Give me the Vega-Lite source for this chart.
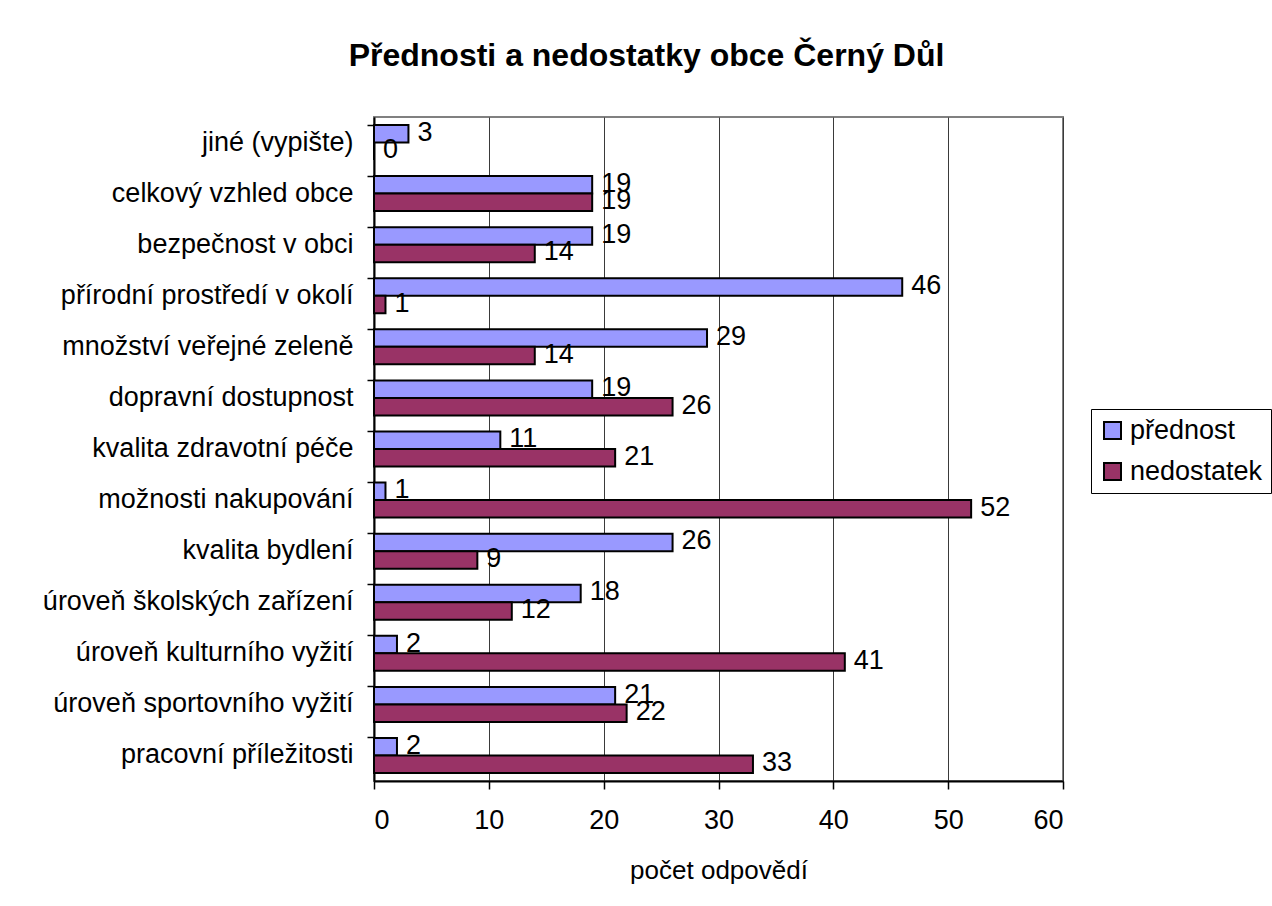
{
  "$schema": "https://vega.github.io/schema/vega-lite/v6.json",
  "autosize": {"type": "none"},
  "width": 689,
  "height": 664,
  "padding": {"left": 374, "top": 117, "right": 209, "bottom": 125},
  "background": "white",
  "title": {
    "text": "Přednosti a nedostatky obce Černý Důl",
    "anchor": "middle",
    "dx": -72,
    "offset": 44,
    "font": "Liberation Sans",
    "fontSize": 32,
    "fontWeight": "bold",
    "color": "black"
  },
  "config": {
    "view": {"stroke": "#808080", "strokeWidth": 2},
    "font": "Liberation Sans"
  },
  "data": {
    "values": [
      {"kategorie": "jiné (vypište)", "typ": "přednost", "pocet": 3},
      {"kategorie": "jiné (vypište)", "typ": "nedostatek", "pocet": 0},
      {"kategorie": "celkový vzhled obce", "typ": "přednost", "pocet": 19},
      {"kategorie": "celkový vzhled obce", "typ": "nedostatek", "pocet": 19},
      {"kategorie": "bezpečnost v obci", "typ": "přednost", "pocet": 19},
      {"kategorie": "bezpečnost v obci", "typ": "nedostatek", "pocet": 14},
      {"kategorie": "přírodní prostředí v okolí", "typ": "přednost", "pocet": 46},
      {"kategorie": "přírodní prostředí v okolí", "typ": "nedostatek", "pocet": 1},
      {"kategorie": "množství veřejné zeleně", "typ": "přednost", "pocet": 29},
      {"kategorie": "množství veřejné zeleně", "typ": "nedostatek", "pocet": 14},
      {"kategorie": "dopravní dostupnost", "typ": "přednost", "pocet": 19},
      {"kategorie": "dopravní dostupnost", "typ": "nedostatek", "pocet": 26},
      {"kategorie": "kvalita zdravotní péče", "typ": "přednost", "pocet": 11},
      {"kategorie": "kvalita zdravotní péče", "typ": "nedostatek", "pocet": 21},
      {"kategorie": "možnosti nakupování", "typ": "přednost", "pocet": 1},
      {"kategorie": "možnosti nakupování", "typ": "nedostatek", "pocet": 52},
      {"kategorie": "kvalita bydlení", "typ": "přednost", "pocet": 26},
      {"kategorie": "kvalita bydlení", "typ": "nedostatek", "pocet": 9},
      {"kategorie": "úroveň školských zařízení", "typ": "přednost", "pocet": 18},
      {"kategorie": "úroveň školských zařízení", "typ": "nedostatek", "pocet": 12},
      {"kategorie": "úroveň kulturního vyžití", "typ": "přednost", "pocet": 2},
      {"kategorie": "úroveň kulturního vyžití", "typ": "nedostatek", "pocet": 41},
      {"kategorie": "úroveň sportovního vyžití", "typ": "přednost", "pocet": 21},
      {"kategorie": "úroveň sportovního vyžití", "typ": "nedostatek", "pocet": 22},
      {"kategorie": "pracovní příležitosti", "typ": "přednost", "pocet": 2},
      {"kategorie": "pracovní příležitosti", "typ": "nedostatek", "pocet": 33}
    ]
  },
  "encoding": {
    "y": {
      "field": "kategorie",
      "type": "nominal",
      "sort": null,
      "scale": {"paddingInner": 0.315, "paddingOuter": 0.1575},
      "axis": {
        "title": null,
        "bandPosition": 0,
        "labelFont": "Liberation Sans",
        "labelFontSize": 27,
        "labelColor": "black",
        "labelPadding": 14,
        "labelLimit": 400,
        "tickSize": 7,
        "tickColor": "black",
        "tickWidth": 1.5,
        "domainColor": "black",
        "domainWidth": 2,
        "grid": false
      }
    },
    "yOffset": {
      "field": "typ",
      "type": "nominal",
      "sort": ["přednost", "nedostatek"],
      "scale": {"paddingInner": 0, "paddingOuter": 0}
    },
    "x": {
      "field": "pocet",
      "type": "quantitative",
      "scale": {"domain": [0, 60], "nice": false},
      "axis": {
        "title": "počet odpovědí",
        "titleFont": "Liberation Sans",
        "titleFontSize": 26,
        "titleFontWeight": "normal",
        "titleColor": "black",
        "titlePadding": 24,
        "values": [0, 10, 20, 30, 40, 50, 60],
        "labelFont": "Liberation Sans",
        "labelFontSize": 27,
        "labelColor": "black",
        "labelPadding": 18,
        "tickSize": 8,
        "tickColor": "black",
        "tickWidth": 1.5,
        "domainColor": "black",
        "domainWidth": 2,
        "grid": true,
        "gridColor": "#3a3a3a",
        "gridWidth": 1
      }
    }
  },
  "layer": [
    {
      "mark": {"type": "bar", "stroke": "black", "strokeWidth": 2},
      "encoding": {
        "color": {
          "field": "typ",
          "type": "nominal",
          "sort": ["přednost", "nedostatek"],
          "scale": {"domain": ["přednost", "nedostatek"], "range": ["#9999FF", "#993366"]},
          "legend": {
            "title": null,
            "orient": "none",
            "legendX": 717,
            "legendY": 292,
            "symbolType": "square",
            "symbolSize": 289,
            "symbolStrokeColor": "black",
            "symbolStrokeWidth": 2,
            "symbolOpacity": 1,
            "labelFont": "Liberation Sans",
            "labelFontSize": 27,
            "labelColor": "black",
            "labelOffset": 4,
            "rowPadding": 13,
            "padding": 8,
            "strokeColor": "black",
            "fillColor": "white",
            "labelLimit": 300
          }
        }
      }
    },
    {
      "mark": {"type": "text", "align": "left", "baseline": "middle", "dx": 9, "dy": -1, "font": "Liberation Sans", "fontSize": 27, "color": "black"},
      "encoding": {
        "text": {"field": "pocet", "type": "quantitative"}
      }
    }
  ]
}
